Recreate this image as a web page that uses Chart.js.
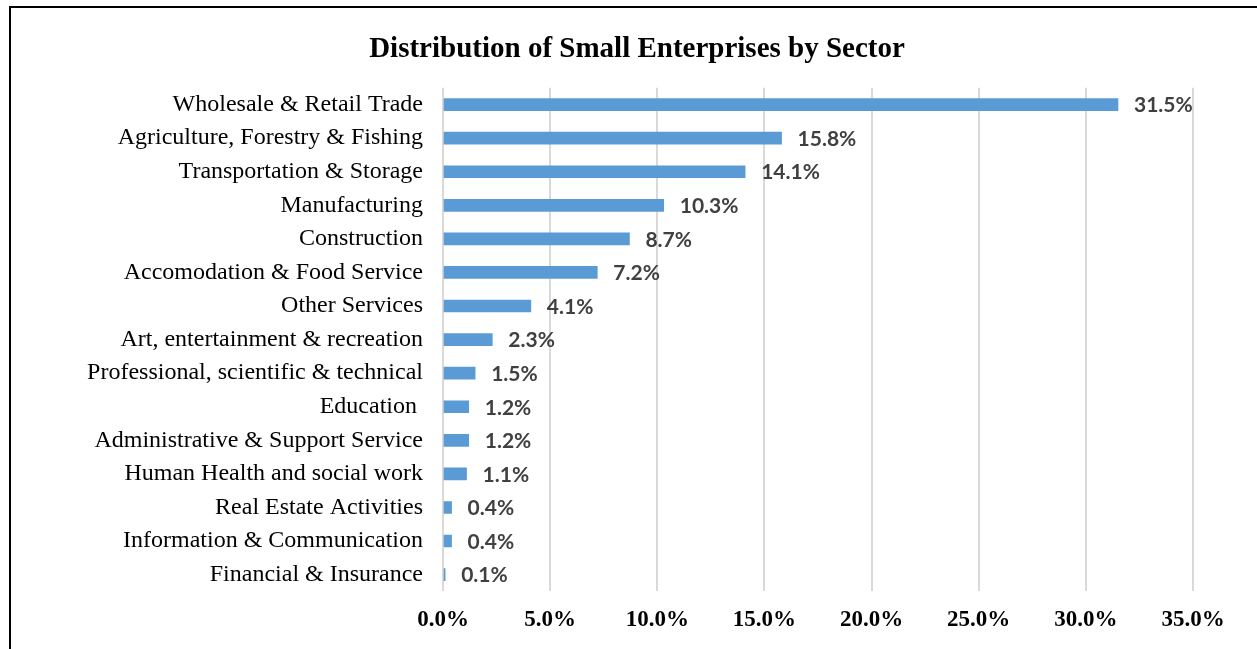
<!DOCTYPE html>
<html>
<head>
<meta charset="utf-8">
<script src="https://cdn.jsdelivr.net/npm/chart.js@4.4.1/dist/chart.umd.min.js"></script>
<style>
  body { margin: 0; background: #fff; overflow: hidden; }
  #frame { position: absolute; left: 9px; top: 6px; width: 1260px; height: 660px; border: 2px solid #000; }
  #wrap { position: absolute; left: 0; top: 0; width: 1246px; height: 641px; }
</style>
</head>
<body>
<div id="frame"><div id="wrap"><canvas id="bar_chart_canvas"></canvas></div></div>
<script>
// categories and values (percent of small enterprises)
var sectors = ['Wholesale & Retail Trade', 'Agriculture, Forestry & Fishing', 'Transportation & Storage',
  'Manufacturing', 'Construction', 'Accomodation & Food Service', 'Other Services',
  'Art, entertainment & recreation', 'Professional, scientific & technical', 'Education ',
  'Administrative & Support Service', 'Human Health and social work', 'Real Estate Activities',
  'Information & Communication', 'Financial & Insurance'];
var shares = [31.5, 15.8, 14.1, 10.3, 8.7, 7.2, 4.1, 2.3, 1.5, 1.2, 1.2, 1.1, 0.4, 0.4, 0.1];
var tickMax = 35;
var tickStep = 5;

// value labels at the end of each bar
var barLabels = {
  id: 'barLabels',
  afterDatasetsDraw: function(chart) {
    var ctx = chart.ctx;
    var meta = chart.getDatasetMeta(0);
    ctx.save();
    ctx.font = 'bold 21px Lato, "Open Sans", sans-serif';
    ctx.fillStyle = '#404040';
    ctx.textAlign = 'left';
    ctx.textBaseline = 'middle';
    meta.data.forEach(function(bar, i) {
      ctx.fillText(shares[i].toFixed(1) + '%', bar.x + 16, bar.y + 1);
    });
    ctx.restore();
  }
};

var ctx = document.getElementById('bar_chart_canvas').getContext('2d');
var chart = new Chart(ctx, {
  type: 'bar',
  data: {
    labels: sectors,
    datasets: [{
      data: shares,
      backgroundColor: '#5B9BD5',
      borderWidth: 0,
      barThickness: 12
    }]
  },
  options: {
    indexAxis: 'y',
    responsive: true,
    maintainAspectRatio: false,
    animation: false,
    layout: { padding: { top: 0, right: 64, bottom: 0, left: 70 } },
    plugins: {
      legend: { display: false },
      tooltip: { enabled: false },
      title: {
        display: true,
        text: 'Distribution of Small Enterprises by Sector',
        color: '#000',
        font: { family: '"Liberation Serif", "Times New Roman", serif', size: 29, weight: 'bold' },
        padding: { top: 24, bottom: 21 }
      }
    },
    scales: {
      x: {
        min: 0,
        max: tickMax,
        ticks: {
          stepSize: tickStep,
          color: '#000',
          padding: 15,
          font: { family: '"Liberation Serif", "Times New Roman", serif', size: 23, weight: 'bold' },
          callback: function(v) { return v.toFixed(1) + '%'; }
        },
        grid: { color: '#d9d9d9', lineWidth: 2, drawTicks: false },
        border: { display: false }
      },
      y: {
        afterFit: function(scale) { scale.width = 362; },
        ticks: {
          color: '#000',
          padding: 20,
          font: { family: '"Liberation Serif", "Times New Roman", serif', size: 24 }
        },
        grid: { display: false, drawTicks: false },
        border: { display: false }
      }
    }
  },
  plugins: [barLabels]
});
</script>
</body>
</html>
